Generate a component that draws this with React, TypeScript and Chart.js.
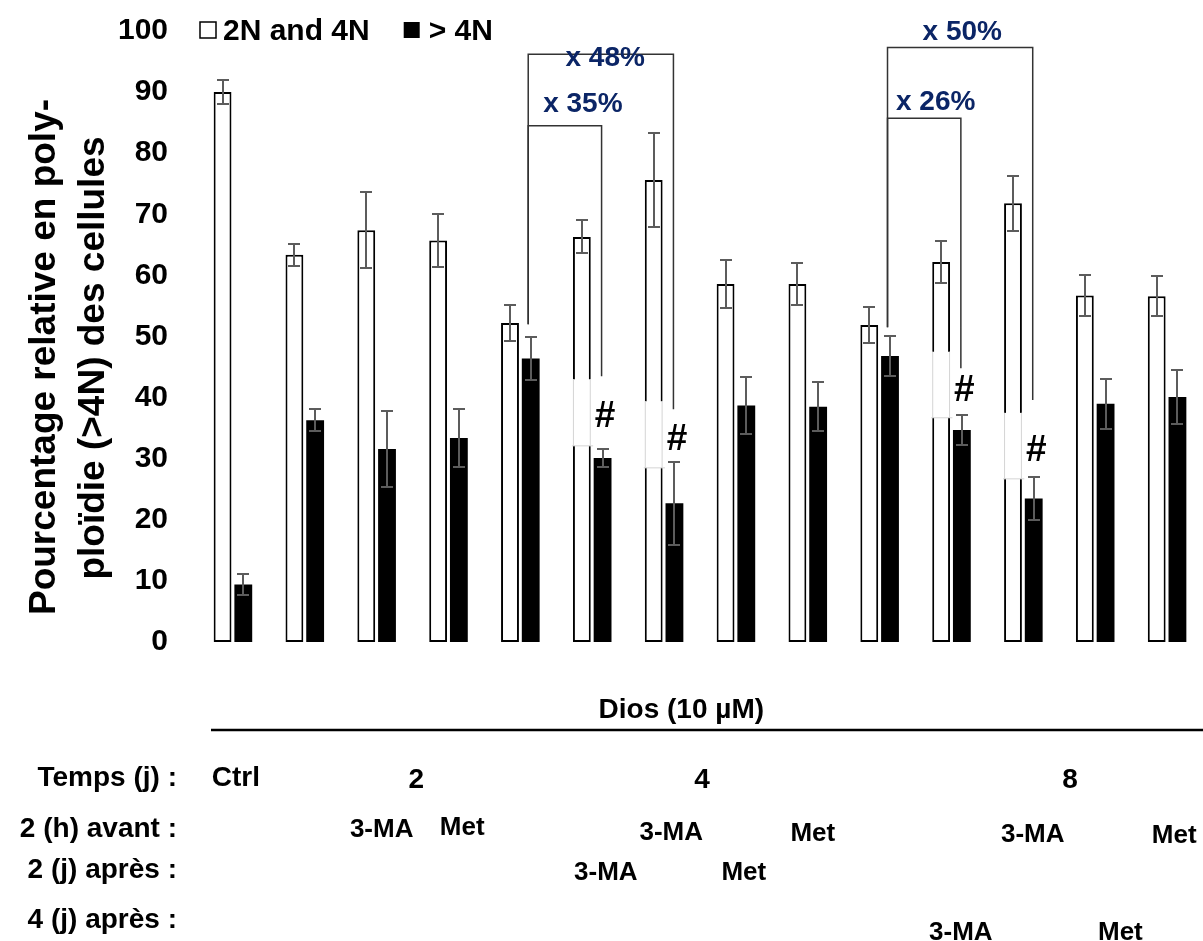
import React, { useEffect, useRef } from 'react';
import { Chart, registerables } from 'chart.js';

Chart.register(...registerables);

// ---------- data ----------
const categories = [
  'Ctrl',
  'Dios 2j',
  'Dios 2j + 3-MA 2h avant',
  'Dios 2j + Met 2h avant',
  'Dios 4j',
  'Dios 4j + 3-MA 2j après',
  'Dios 4j + 3-MA 2h avant',
  'Dios 4j + Met 2j après',
  'Dios 4j + Met 2h avant',
  'Dios 8j',
  'Dios 8j + 3-MA 4j après',
  'Dios 8j + 3-MA 2h avant',
  'Dios 8j + Met 4j après',
  'Dios 8j + Met 2h avant',
];
const seriesNames = ['2N and 4N', '> 4N'];
const diploidTetraploid = [90.0, 63.4, 67.4, 65.7, 52.2, 66.3, 75.6, 58.6, 58.6, 51.9, 62.2, 71.8, 56.7, 56.6];
const diploidTetraploidErr = [1.9, 1.8, 6.2, 4.4, 2.9, 2.7, 7.7, 3.9, 3.4, 2.9, 3.4, 4.5, 3.4, 3.3];
const polyploid = [9.4, 36.3, 31.6, 33.4, 46.4, 30.1, 22.7, 38.7, 38.5, 46.8, 34.7, 23.5, 39.0, 40.1];
const polyploidErr = [1.7, 1.8, 6.2, 4.7, 3.5, 1.5, 6.8, 4.6, 4.0, 3.3, 2.4, 3.5, 4.1, 4.4];
const yTickValues = [0, 10, 20, 30, 40, 50, 60, 70, 80, 90, 100];
const yTitleLines = ['Pourcentage relative en poly-', 'ploïdie (>4N) des cellules'];

// fold-change brackets (group indices, values in % units)
const bracketLabels = ['x 35%', 'x 48%', 'x 26%', 'x 50%'];
const bracketFrom = [4, 4, 9, 9];
const bracketTo = [5, 6, 10, 11];
const bracketTop = [84.5, 96.2, 85.7, 97.3];
const bracketLeftEnd = [52.0, 52.0, 51.5, 51.5];
const bracketRightEnd = [43.5, 38.1, 44.8, 39.6];
const bracketLabelPos = [4.87, 5.18, 9.78, 10.15];
const bracketLabelValue = [86.7, 94.2, 87.1, 98.6];

// significance marks (#)
const sigGroups = [5, 6, 10, 11];
const sigLabelValue = [36.9, 33.1, 41.1, 31.3];
const sigBoxTop = [43.0, 39.4, 47.5, 37.5];
const sigBoxBottom = [32.1, 28.5, 36.7, 26.7];

// treatment table below the chart
const headerText = 'Dios (10 µM)';
const rowLabels = ['Temps (j) :', '2 (h) avant :', '2 (j) après :', '4 (j) après :'];
const tableTexts = ['Ctrl', '2', '4', '8', '3-MA', 'Met', '3-MA', 'Met', '3-MA', 'Met', '3-MA', 'Met', '3-MA', 'Met'];
const tableTextPos = [0.04, 2.55, 6.53, 11.65, 2.07, 3.19, 6.1, 8.07, 11.13, 13.1, 5.19, 7.11, 10.13, 12.35];

const FONT = '"Liberation Sans", Arial, Helvetica, sans-serif';

export default function App() {
  const ref = useRef<HTMLCanvasElement>(null);

  useEffect(() => {
    document.body.style.margin = '0';
    const canvas = ref.current;
    if (!canvas) return;

    const overlay = {
      id: 'overlay',
      afterDatasetsDraw(chart: any) {
        const { ctx } = chart;
        const xs = chart.scales.x;
        const ys = chart.scales.y;
        const white = chart.getDatasetMeta(0).data;
        const black = chart.getDatasetMeta(1).data;
        ctx.save();

        // error bars
        const drawErr = (bars: any[], vals: number[], errs: number[]) => {
          ctx.strokeStyle = '#5c5c5c';
          ctx.lineWidth = 2;
          bars.forEach((b: any, i: number) => {
            const cx = Math.round(b.x);
            const yt = Math.round(ys.getPixelForValue(vals[i] + errs[i]));
            const yb = Math.round(ys.getPixelForValue(vals[i] - errs[i]));
            ctx.beginPath();
            ctx.moveTo(cx, yt);
            ctx.lineTo(cx, yb);
            ctx.moveTo(cx - 6, yt);
            ctx.lineTo(cx + 6, yt);
            ctx.moveTo(cx - 6, yb);
            ctx.lineTo(cx + 6, yb);
            ctx.stroke();
          });
        };
        drawErr(white, diploidTetraploid, diploidTetraploidErr);
        drawErr(black, polyploid, polyploidErr);

        // significance boxes and marks
        sigGroups.forEach((g, k) => {
          const w = white[g];
          const bl = black[g];
          const left = w.x - w.width / 2 - 1;
          const right = bl.x - bl.width / 2 - 0.5;
          const top = ys.getPixelForValue(sigBoxTop[k]);
          const bottom = ys.getPixelForValue(sigBoxBottom[k]);
          ctx.fillStyle = '#ffffff';
          ctx.fillRect(left, top, right - left, bottom - top);
          ctx.strokeStyle = '#d4d4d4';
          ctx.lineWidth = 1;
          ctx.beginPath();
          ctx.moveTo(w.x - w.width / 2 + 0.5, top);
          ctx.lineTo(w.x - w.width / 2 + 0.5, bottom);
          ctx.moveTo(w.x + w.width / 2 - 0.5, top);
          ctx.lineTo(w.x + w.width / 2 - 0.5, bottom);
          ctx.moveTo(left, bottom);
          ctx.lineTo(right, bottom);
          ctx.stroke();
          ctx.fillStyle = '#000000';
          ctx.font = `bold 37px ${FONT}`;
          ctx.textAlign = 'center';
          ctx.textBaseline = 'middle';
          ctx.fillText('#', bl.x + 2.5, ys.getPixelForValue(sigLabelValue[k]));
        });

        // brackets
        bracketLabels.forEach((label, k) => {
          const lx = black[bracketFrom[k]].x - 2.5;
          const rx = black[bracketTo[k]].x - 1;
          const yt = ys.getPixelForValue(bracketTop[k]);
          ctx.strokeStyle = '#333333';
          ctx.lineWidth = 1.5;
          ctx.beginPath();
          ctx.moveTo(lx, ys.getPixelForValue(bracketLeftEnd[k]));
          ctx.lineTo(lx, yt);
          ctx.lineTo(rx, yt);
          ctx.lineTo(rx, ys.getPixelForValue(bracketRightEnd[k]));
          ctx.stroke();
          ctx.fillStyle = '#0b2566';
          ctx.font = `bold 28px ${FONT}`;
          ctx.textAlign = 'center';
          ctx.textBaseline = 'alphabetic';
          ctx.fillText(label, xs.getPixelForValue(bracketLabelPos[k]), ys.getPixelForValue(bracketLabelValue[k]));
        });
        ctx.restore();
      },
      afterDraw(chart: any) {
        const { ctx } = chart;
        const xs = chart.scales.x;
        ctx.save();
        ctx.fillStyle = '#000000';

        // legend
        ctx.font = `bold 30px ${FONT}`;
        ctx.textAlign = 'left';
        ctx.textBaseline = 'alphabetic';
        ctx.lineWidth = 1.5;
        ctx.strokeStyle = '#000000';
        ctx.fillStyle = '#ffffff';
        ctx.fillRect(200, 22, 16, 16);
        ctx.strokeRect(200, 22, 16, 16);
        ctx.fillStyle = '#000000';
        ctx.fillText(seriesNames[0], 223, 40);
        const t1 = ctx.measureText(seriesNames[0]).width;
        const bx = 223 + t1 + 34;
        ctx.fillRect(bx, 22, 16, 16);
        ctx.fillText(seriesNames[1], bx + 25, 40);

        // y axis title
        ctx.font = `bold 37px ${FONT}`;
        ctx.textAlign = 'center';
        ctx.textBaseline = 'alphabetic';
        ctx.save();
        ctx.translate(55, 357);
        ctx.rotate(-Math.PI / 2);
        ctx.fillText(yTitleLines[0], 0, 0);
        ctx.restore();
        ctx.save();
        ctx.translate(104, 358);
        ctx.rotate(-Math.PI / 2);
        ctx.fillText(yTitleLines[1], 0, 0);
        ctx.restore();

        // table header
        ctx.font = `bold 28px ${FONT}`;
        ctx.textAlign = 'center';
        ctx.fillText(headerText, xs.getPixelForValue(6.24), 718);
        ctx.lineWidth = 2.5;
        ctx.beginPath();
        ctx.moveTo(211, 730);
        ctx.lineTo(1203, 730);
        ctx.stroke();

        // row labels
        ctx.textAlign = 'right';
        const rowBase = [786, 837, 878, 928];
        rowLabels.forEach((r, i) => ctx.fillText(r, 177, rowBase[i]));

        // table cells
        const cellBase = [786, 788, 788, 788, 837, 835, 840, 841, 842, 843, 880, 880, 940, 940];
        tableTexts.forEach((t, i) => {
          ctx.font = i < 4 ? `bold 28px ${FONT}` : `bold 26px ${FONT}`;
          ctx.textAlign = 'center';
          ctx.fillText(t, xs.getPixelForValue(tableTextPos[i]), cellBase[i]);
        });
        ctx.restore();
      },
    };

    const chart = new Chart(canvas, {
      type: 'bar',
      data: {
        labels: categories,
        datasets: [
          {
            label: seriesNames[0],
            data: diploidTetraploid,
            backgroundColor: '#ffffff',
            borderColor: '#000000',
            borderWidth: 2,
            borderSkipped: false,
            categoryPercentage: 0.577,
            barPercentage: 0.86,
          },
          {
            label: seriesNames[1],
            data: polyploid,
            backgroundColor: '#000000',
            borderWidth: 0,
            categoryPercentage: 0.577,
            barPercentage: 0.86,
          },
        ],
      },
      options: {
        responsive: false,
        animation: false,
        devicePixelRatio: 1,
        layout: { padding: { top: 31, bottom: 299, left: 0, right: 0 } },
        plugins: {
          legend: { display: false },
          tooltip: { enabled: false },
          title: { display: false },
        },
        scales: {
          x: { display: false, offset: true },
          y: {
            min: 0,
            max: 100,
            afterBuildTicks: (scale: any) => {
              scale.ticks = yTickValues.map((v) => ({ value: v }));
            },
            afterFit: (scale: any) => {
              scale.width = 197;
              scale.paddingTop = 0;
              scale.paddingBottom = 0;
            },
            ticks: {
              padding: 29,
              color: '#000000',
              font: { family: FONT, size: 30, weight: 'bold' },
            },
            grid: { display: false, drawTicks: false },
            border: { display: false },
          },
        },
      },
      plugins: [overlay],
    } as any);

    return () => chart.destroy();
  }, []);

  return (
    <div style={{ width: 1203, height: 941 }}>
      <canvas ref={ref} width={1203} height={941} style={{ display: 'block' }} />
    </div>
  );
}
